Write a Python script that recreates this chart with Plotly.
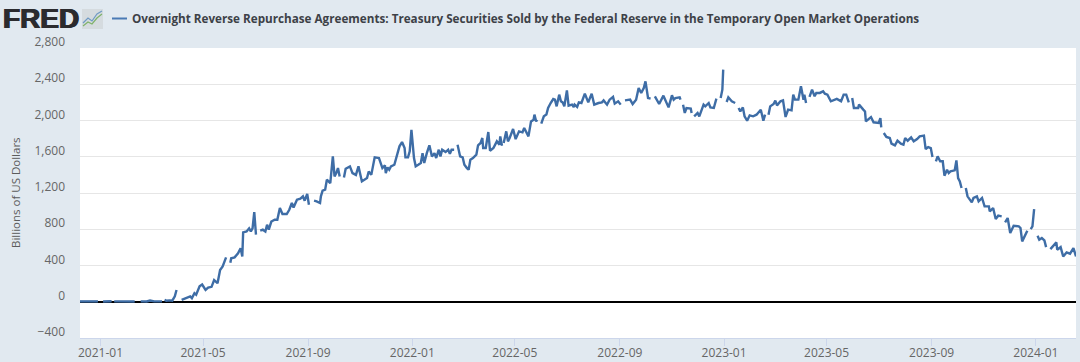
import pandas as pd
import plotly.graph_objects as go

SERIES_NAME = "Overnight Reverse Repurchase Agreements: Treasury Securities Sold by the Federal Reserve in the Temporary Open Market Operations"
Y_TITLE = "Billions of US Dollars"
BASE_DATE = "2021-01-01"
Y_TICKS = [-400, 0, 400, 800, 1200, 1600, 2000, 2400, 2800]
X_TICKS = ["2021-01-01", "2021-05-01", "2021-09-01", "2022-01-01", "2022-05-01", "2022-09-01",
           "2023-01-01", "2023-05-01", "2023-09-01", "2024-01-01"]

run_01 = [(-24,4),(-15,3),(-9,5),(-3,4)]
run_02 = [(3,3),(13,5)]
run_03 = [(16,4),(22,3),(28,6),(34,4),(40,3)]
run_04 = [(47,4),(54,3),(58,14),(63,4),(72,4)]
run_05 = [(75,20),(77,12),(81,15),(84,12),(87,60),(89,130)]
run_06 = [(95,20),(101,40),(105,60),(107,40),(110,95),(112,77),(116,170),(119,190),(123,130),(126,155),(130,165),(133,240),(137,205),(140,350),(143,390),(147,490)]
run_07 = [(152,430),(153,480),(157,490),(161,535),(164,590),(166,500),(167,765),(171,775),(174,810),(176,775),(178,810),(180,990),(182,740)]
run_08 = [(187,785),(190,795),(193,775),(195,850),(197,795),(200,885),(204,905),(207,905),(210,1035),(213,968),(218,968),(221,1015),(224,1090),(226,1040),(230,1126),(234,1137),(237,1163),(239,1115),(242,1190),(244,1070)]
run_09 = [(250,1115),(253,1108),(257,1090),(258,1163),(260,1225),(263,1236),(265,1347),(269,1310),(272,1605),(274,1383),(276,1420),(278,1475),(280,1383)]
run_10 = [(285,1372),(287,1468),(292,1494),(295,1420),(299,1400),(302,1494),(306,1328),(310,1358),(312,1365),(314,1438),(317,1400),(321,1593),(326,1586),(330,1475),(333,1505),(334,1420),(336,1483),(338,1457),(340,1494),(344,1512),(347,1604),(350,1715),(353,1762),(356,1696),(357,1593),(360,1593),(362,1660),(364,1898),(367,1586),(369,1494),(372,1512),(375,1531),(377,1640),(379,1531),(382,1640),(385,1726),(388,1604),(391,1640),(393,1586),(396,1678),(398,1604),(400,1678),(404,1652),(407,1678),(409,1632),(411,1678),(414,1678)]
run_11 = [(418,1733),(421,1604),(424,1593),(426,1512),(429,1475),(431,1457),(433,1568),(436,1586),(440,1623),(442,1726),(445,1752),(447,1807),(448,1696),(451,1696),(454,1873),(456,1667),(460,1696),(464,1770),(467,1733),(468,1825),(470,1722)]
run_12 = [(472,1752),(475,1880),(477,1770),(479,1807),(483,1906),(486,1795),(490,1880),(494,1869),(496,1917),(501,1825),(504,1990),(507,2009),(508,2065),(510,1990),(511,2009)]
run_13 = [(516,1965),(519,2046),(522,2065),(524,2138),(527,2193),(530,2237),(532,2230),(534,2156),(537,2285),(539,2212),(541,2200),(543,2156),(546,2333),(548,2164),(552,2175),(554,2149),(555,2175),(558,2149),(560,2200),(563,2193),(567,2296),(571,2200),(575,2296),(578,2175),(583,2193),(587,2200),(589,2222),(593,2175),(596,2230),(600,2260),(602,2186),(606,2212),(609,2175)]
run_14 = [(614,2222),(620,2230),(623,2182),(627,2230),(630,2359),(633,2304),(636,2359),(638,2432),(641,2248),(644,2241)]
run_15 = [(649,2267),(654,2182),(659,2274),(662,2210),(665,2145),(669,2278),(671,2230),(673,2248),(678,2256),(679,2230)]
run_16 = [(682,2175),(684,2083),(686,2138),(691,2131),(692,2083)]
run_17 = [(695,2046),(699,2083),(701,2046),(706,2175),(708,2156),(712,2193),(714,2145),(718,2138),(721,2241)]
run_18 = [(726,2248),(728,2340),(729,2561)]
run_19 = [(733,2204),(735,2256),(739,2212),(743,2193)]
run_20 = [(747,2138),(749,2101),(752,2145),(754,2046),(757,1998),(760,2057),(764,2046),(768,2064),(773,2119),(776,1998),(778,2064)]
run_21 = [(782,2064),(784,2156),(788,2182),(790,2219),(792,2167),(796,2212),(799,2223),(802,2039),(805,2120),(809,2112),(811,2285),(813,2230),(817,2230),(820,2377),(823,2230),(824,2285),(826,2193)]
run_22 = [(830,2260),(832,2310),(833,2340),(836,2267),(838,2304),(842,2304),(846,2322),(848,2296),(851,2285),(855,2212),(859,2223),(862,2238),(867,2212),(870,2285),(873,2285),(876,2200)]
run_23 = [(880,2248),(882,2138),(887,2138),(888,2175),(893,2120),(895,2100),(896,1990),(901,2027),(902,2038),(905,1980),(911,1973),(913,2027),(914,1925)]
run_24 = [(917,1862),(920,1818),(924,1807),(926,1744),(930,1726),(933,1777),(937,1744),(940,1733),(942,1807),(945,1777),(949,1814),(952,1770),(956,1796),(959,1825),(964,1833),(966,1685),(969,1707),(972,1696),(974,1597)]
run_25 = [(978,1550),(980,1605),(983,1550),(986,1550),(988,1391),(991,1457),(993,1420),(995,1439),(1000,1450),(1002,1560),(1004,1365),(1006,1328),(1008,1255)]
run_26 = [(1013,1255),(1015,1163),(1020,1097),(1022,1145),(1026,1163),(1028,1108),(1032,1145),(1035,1052),(1040,1052),(1041,997),(1045,1034),(1048,913),(1051,950),(1055,942)]
run_27 = [(1059,876),(1062,924),(1065,758),(1069,839),(1075,832),(1077,814),(1079,666),(1082,729),(1085,784)]
run_28 = [(1089,802),(1091,832),(1093,1023)]
run_29 = [(1097,729),(1099,684),(1102,703),(1105,677),(1107,603)]
run_30 = [(1112,581),(1116,629),(1119,655),(1120,574),(1124,603),(1127,500),(1131,544),(1135,530),(1139,592),(1142,500)]

runs = [run_01, run_02, run_03, run_04, run_05, run_06, run_07, run_08, run_09, run_10,
        run_11, run_12, run_13, run_14, run_15, run_16, run_17, run_18, run_19, run_20,
        run_21, run_22, run_23, run_24, run_25, run_26, run_27, run_28, run_29, run_30]

base = pd.Timestamp(BASE_DATE)
xs, ys = [], []
for run in runs:
    for d, v in run:
        xs.append(base + pd.Timedelta(days=d))
        ys.append(v)
    xs.append(base + pd.Timedelta(days=run[-1][0] + 1))
    ys.append(None)

W, H = 1080, 362
L, R, T, B = 80, 1076, 48, 338
BG = "#e1e9f0"
FONT = "Open Sans"
px = lambda x: (x - L) / (R - L)
py = lambda y: (B - y) / (B - T)

fig = go.Figure()
fig.add_trace(go.Scatter(x=xs, y=ys, mode="lines", name=SERIES_NAME, connectgaps=False,
                         line=dict(color="#3e6da6", width=2.4), showlegend=False))

shapes = [
    dict(type="line", xref="paper", yref="paper", x0=px(112), x1=px(127), y0=py(18.5), y1=py(18.5),
         line=dict(color="#4a7ab5", width=2)),
    dict(type="rect", xref="paper", yref="paper", x0=px(82), x1=px(103), y0=py(29), y1=py(9),
         line=dict(width=0), fillcolor="#d5dbdf", layer="above"),
    dict(type="path", xref="paper", yref="paper", layer="above", line=dict(color="#7fb26a", width=1.2),
         path=f"M {px(83)} {py(26)} L {px(88)} {py(22)} L {px(92)} {py(24)} L {px(97)} {py(18)} L {px(102)} {py(14)}"),
    dict(type="path", xref="paper", yref="paper", layer="above", line=dict(color="#6f9ac4", width=1.2),
         path=f"M {px(83)} {py(23)} L {px(88)} {py(18)} L {px(92)} {py(21)} L {px(97)} {py(14)} L {px(102)} {py(11)}"),
]

fig.update_layout(
    width=W, height=H, autosize=False,
    margin=dict(l=L, r=W - R, t=T, b=H - B, pad=0, autoexpand=False),
    paper_bgcolor=BG, plot_bgcolor="#ffffff",
    font=dict(family=FONT, color="#666666", size=12),
    title=dict(text=SERIES_NAME, x=132 / W, xanchor="left", y=1 - 18.5 / H, yanchor="middle",
               font=dict(family=FONT, size=11.7, color="#3d4147", weight=700)),
    shapes=shapes,
    annotations=[
        dict(text="FRED", xref="paper", yref="paper", x=px(1), y=py(19), xanchor="left", yanchor="middle",
             showarrow=False,
             font=dict(family="Liberation Sans", size=28, color="#2b2b2e", weight=700,
                       shadow="0.7px 0 0 #2b2b2e, -0.7px 0 0 #2b2b2e")),
        dict(text=Y_TITLE, xref="paper", yref="paper", x=px(15), y=py(193), xanchor="center", yanchor="middle",
             textangle=-90, showarrow=False, font=dict(family=FONT, size=11.5, color="#5c5c5c")),
    ],
    xaxis=dict(type="date", range=["2020-12-08", "2024-02-17"], tickvals=X_TICKS, tickformat="%Y-%m",
               ticks="outside", ticklen=7, tickwidth=1, tickcolor="#ccd6eb", showgrid=False, automargin=False,
               showline=True, linecolor="#ccd6eb", linewidth=1, zeroline=False, ticklabelstandoff=-3,
               tickfont=dict(size=12, color="#666666")),
    yaxis=dict(range=[-400, 2800], tickvals=Y_TICKS, tickformat=",d", showgrid=True, gridcolor="#e6e6e6", gridwidth=1,
               zeroline=True, zerolinecolor="#000000", zerolinewidth=2, showline=False, ticks="", automargin=False,
               ticklabelshift=-6, ticklabelstandoff=14,
               tickfont=dict(size=12, color="#666666")),
)

fig.write_html("out.html", config={"displayModeBar": False},
               post_script=f"document.body.style.margin='0';document.body.style.background='{BG}';")
